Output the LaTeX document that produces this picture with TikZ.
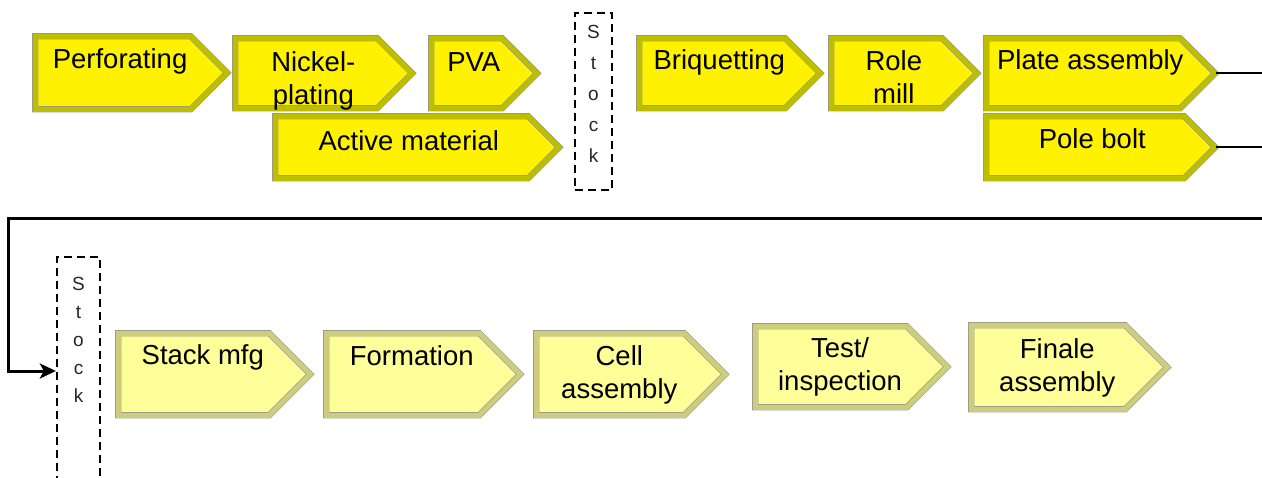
\documentclass[tikz,border=0pt]{standalone}
\usepackage{fontspec}
\setmainfont{Liberation Sans}
\usetikzlibrary{shapes.symbols,arrows.meta}
\definecolor{bandtop}{RGB}{190,190,0}
\definecolor{palefill}{RGB}{255,255,153}
\definecolor{bandlow}{RGB}{205,205,125}
\definecolor{rimgray}{RGB}{150,150,140}
% shift a line of text to the right without widening it
\newcommand\nudge[1]{\hspace*{7pt}#1\hspace*{-7pt}}
\newcommand\nudgelow[1]{\hspace*{9pt}#1\hspace*{-9pt}}

\begin{document}
\begin{tikzpicture}[x=1pt,y=-1pt,
    yelbox/.style={shape=signal,signal to=east,signal from=nowhere,
      signal pointer angle=90,anchor=north west,inner xsep=0pt,inner ysep=0pt,
      fill=yellow,draw=rimgray,line width=.6pt,double=bandtop,double distance=5pt,
      align=center,font=\fontsize{27.5}{33}\selectfont},
    palebox/.style={yelbox,fill=palefill,double=bandlow},
    stockbox/.style={draw,line width=2.3pt,dash pattern=on 8pt off 5pt,
      inner sep=0pt,align=center,text=black!85},
    loopline/.style={line width=3pt,-{Stealth[length=16pt,width=15pt,inset=4pt]}}]
  \clip (0,0) rectangle (1262,477);

  % upper row
  \draw (35,36) node[yelbox,minimum width=192,minimum height=73,
    text height=32,text depth=41] (perf) {\nudge{Perforating}};
  \draw (235,38) node[yelbox,minimum width=177,minimum height=70,
    text height=66,text depth=4] (nickel) {\nudge{Nickel-}\\\nudge{plating}};
  \draw (431,38) node[yelbox,minimum width=106,minimum height=70,
    text height=33,text depth=37] (pva) {\nudge{PVA}};
  \draw (275,116) node[yelbox,minimum width=284,minimum height=62,
    text height=34,text depth=28] (active) {\nudge{Active material}};

  \draw (593.5,101.5) node[stockbox,minimum width=37,minimum height=177,
    text height=149,text depth=28,font=\fontsize{19}{31}\selectfont] (stockA) {S\\t\\o\\c\\k};

  \draw (639,38) node[yelbox,minimum width=181,minimum height=70,
    text height=31,text depth=39] (briq) {\nudge{Briquetting}};
  \draw (831,38) node[yelbox,minimum width=146,minimum height=70,
    text height=65,text depth=5] (role) {\nudge{Role}\\\nudge{mill}};
  \draw (986,38) node[yelbox,minimum width=229,minimum height=70,
    text height=31,text depth=39] (plate) {\nudge{Plate assembly}};
  \draw (986,116) node[yelbox,minimum width=229,minimum height=62,
    text height=32,text depth=30] (pole) {\nudge{Pole bolt}};

  \coordinate (rimA) at (1262,72);
  \coordinate (rimB) at (1262,146);
  \coordinate (rimC) at (1262,218);
  \coordinate (turn) at (8,218);
  \draw[line width=2.2pt] (plate.east) -- (plate.east -| rimA);
  \draw[line width=2.2pt] (pole.east) -- (pole.east -| rimB);

  % lower row
  \draw (78.5,371) node[stockbox,minimum width=43,minimum height=228,
    text height=145,text depth=83,font=\fontsize{19}{28}\selectfont] (stockB) {S\\t\\o\\c\\k};
  \draw[loopline] (rimC) -- (turn) |- (stockB.west);

  \draw (118,333) node[palebox,minimum width=192,minimum height=82,
    text height=31,text depth=51] (stack) {\nudgelow{Stack mfg}};
  \draw (326,333) node[palebox,minimum width=194,minimum height=82,
    text height=32,text depth=50] (form) {\nudgelow{Formation}};
  \draw (536,333) node[palebox,minimum width=189,minimum height=82,
    text height=65,text depth=17] (cell) {\nudgelow{Cell}\\\nudgelow{assembly}};
  \draw (755,326) node[palebox,minimum width=192,minimum height=81,
    text height=64,text depth=17] (test) {\nudgelow{Test/}\\\nudgelow{inspection}};
  \draw (971,325) node[palebox,minimum width=196,minimum height=84,
    text height=66,text depth=18] (finale) {\nudgelow{Finale}\\\nudgelow{assembly}};
\end{tikzpicture}
\end{document}
